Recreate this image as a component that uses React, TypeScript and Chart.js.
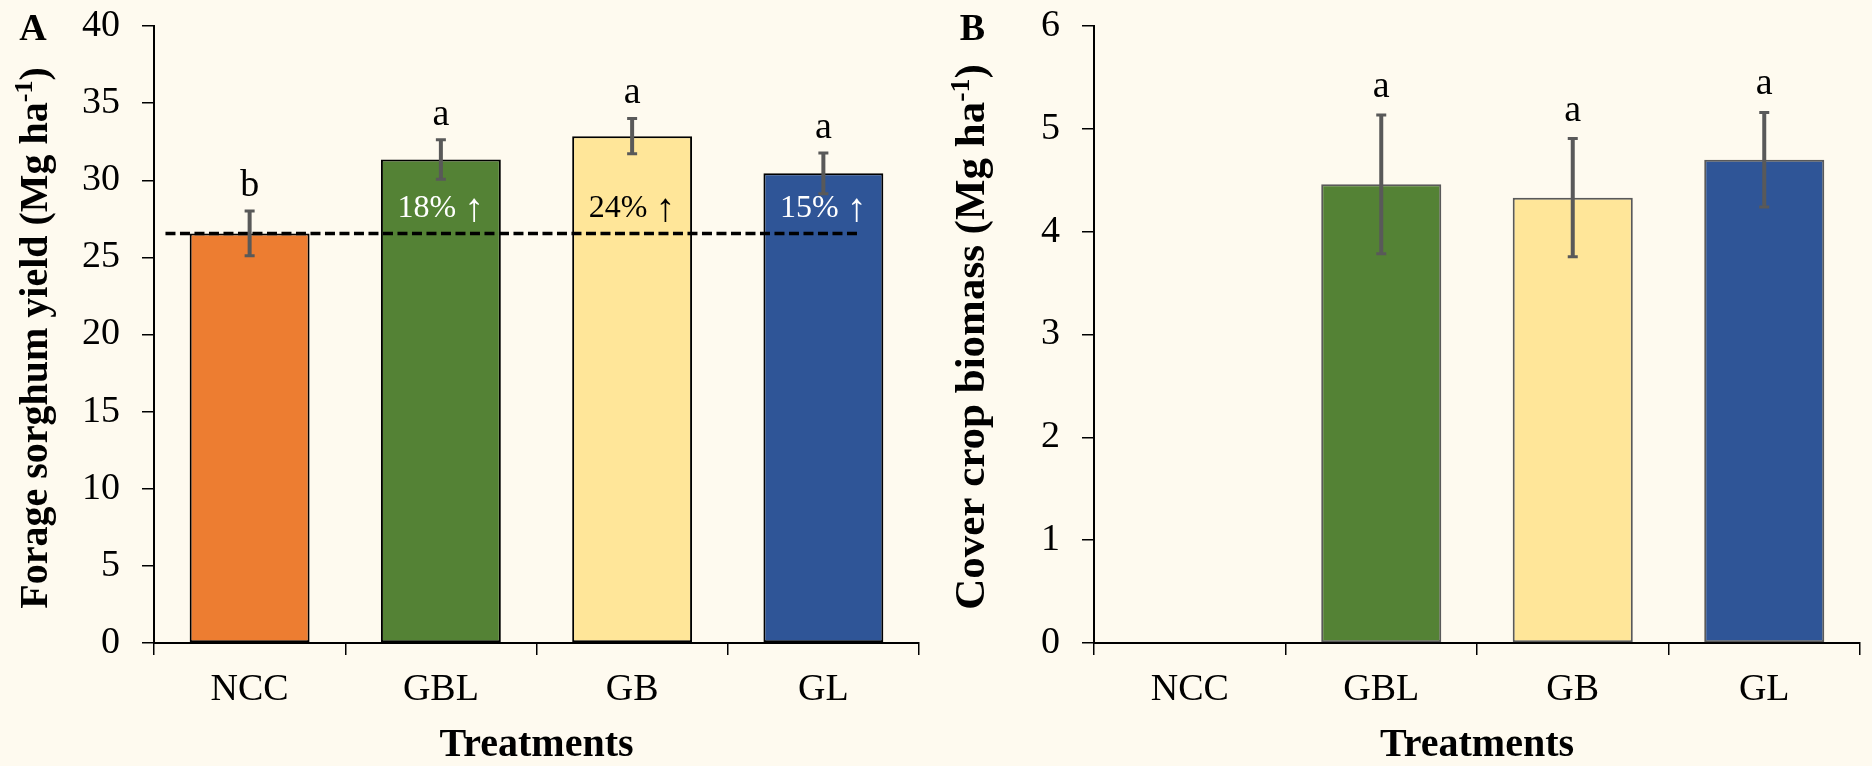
import React, { useEffect, useRef } from 'react';
import { Chart, registerables } from 'chart.js';

Chart.register(...registerables);

// ---- data ----
const treatments = ['NCC', 'GBL', 'GB', 'GL'];
const barColors = ['#ED7D31', '#548235', '#FFE699', '#2F5597'];

// Panel A: forage sorghum yield (Mg ha-1)
const sorghumYield = [26.55, 31.35, 32.86, 30.45];
const sorghumSE = [1.45, 1.28, 1.15, 1.32];
const sorghumLetters = ['b', 'a', 'a', 'a'];
const yieldGainText = ['', '18%', '24%', '15%'];
const yieldGainColors = ['', '#FFFFFF', '#000000', '#FFFFFF'];

// Panel B: cover crop biomass (Mg ha-1)
const coverBiomass = [0, 4.46, 4.33, 4.7];
const coverSE = [0, 0.675, 0.575, 0.46];
const coverLetters = ['', 'a', 'a', 'a'];

const SERIF = "'Liberation Serif', 'Times New Roman', Times, serif";
const BG = '#FEFAEF';
const UP = '\u2191';

type PanelCfg = {
  panel: string;
  panelX: number;
  titleMain: string;
  titleSize: number;
  titleX: number;
  titleY: number;
  values: number[];
  errors: number[];
  letters: string[];
  letterGap: number;
  gains?: string[];
  gainColors?: string[];
  gainAt?: number;
  baseline?: { value: number; from: number; to: number };
};

const annotate = {
  id: 'annotate',
  afterDatasetsDraw(chart: any, _args: any, opts: PanelCfg) {
    const { ctx } = chart;
    const xs = chart.scales.x;
    const ys = chart.scales.y;

    // dashed reference line at the control mean
    if (opts.baseline) {
      const y = ys.getPixelForValue(opts.baseline.value);
      ctx.save();
      ctx.strokeStyle = '#000';
      ctx.lineWidth = 3.5;
      ctx.setLineDash([10, 4.5]);
      ctx.beginPath();
      ctx.moveTo(xs.getPixelForValue(opts.baseline.from), y);
      ctx.lineTo(xs.getPixelForValue(opts.baseline.to), y);
      ctx.stroke();
      ctx.restore();
    }

    // percentage gain labels ("NN% ↑") inside bars
    if (opts.gains) {
      const numFont = `32px ${SERIF}`;
      const arrowFont = `40px ${SERIF}`;
      ctx.save();
      ctx.textAlign = 'left';
      ctx.textBaseline = 'alphabetic';
      opts.gains.forEach((t, i) => {
        if (!t) return;
        const label = t + ' ';
        ctx.font = numFont;
        const w1 = ctx.measureText(label).width;
        ctx.font = arrowFont;
        const w2 = ctx.measureText(UP).width;
        const x0 = xs.getPixelForValue(i) - (w1 + w2) / 2;
        const yb = ys.getPixelForValue(opts.gainAt!) + 11;
        ctx.fillStyle = opts.gainColors![i];
        ctx.font = numFont;
        ctx.fillText(label, x0, yb);
        ctx.font = arrowFont;
        ctx.fillText(UP, x0 + w1, yb + 4);
      });
      ctx.restore();
    }

    // error bars and significance letters
    opts.values.forEach((v, i) => {
      const e = opts.errors[i];
      if (!e) return;
      const x = xs.getPixelForValue(i);
      const yTop = ys.getPixelForValue(v + e);
      const yBot = ys.getPixelForValue(v - e);
      ctx.save();
      ctx.strokeStyle = '#595959';
      ctx.lineWidth = 4;
      ctx.beginPath();
      ctx.moveTo(x, yTop);
      ctx.lineTo(x, yBot);
      ctx.stroke();
      ctx.lineWidth = 3;
      ctx.beginPath();
      ctx.moveTo(x - 5, yTop);
      ctx.lineTo(x + 5, yTop);
      ctx.moveTo(x - 5, yBot);
      ctx.lineTo(x + 5, yBot);
      ctx.stroke();
      ctx.restore();

      if (opts.letters[i]) {
        ctx.save();
        ctx.fillStyle = '#000';
        ctx.font = `38px ${SERIF}`;
        ctx.textAlign = 'center';
        ctx.textBaseline = 'alphabetic';
        ctx.fillText(opts.letters[i], x, yTop - opts.letterGap);
        ctx.restore();
      }
    });
  },
  afterDraw(chart: any, _args: any, opts: PanelCfg) {
    const { ctx } = chart;
    // panel letter
    ctx.save();
    ctx.fillStyle = '#000';
    ctx.font = `bold 38px ${SERIF}`;
    ctx.textAlign = 'center';
    ctx.textBaseline = 'alphabetic';
    ctx.fillText(opts.panel, opts.panelX, 40);
    ctx.restore();

    // rotated y-axis title with superscript unit
    const big = `bold ${opts.titleSize}px ${SERIF}`;
    const small = `bold ${Math.round(opts.titleSize * 0.65)}px ${SERIF}`;
    const tail = ')';
    const sup = '-1';
    ctx.save();
    ctx.font = big;
    const wMain = ctx.measureText(opts.titleMain).width;
    const wTail = ctx.measureText(tail).width;
    ctx.font = small;
    const wSup = ctx.measureText(sup).width;
    const total = wMain + wSup + wTail;
    ctx.translate(opts.titleX, opts.titleY);
    ctx.rotate(-Math.PI / 2);
    ctx.fillStyle = '#000';
    ctx.textAlign = 'left';
    ctx.textBaseline = 'alphabetic';
    let cx = -total / 2;
    ctx.font = big;
    ctx.fillText(opts.titleMain, cx, 0);
    cx += wMain;
    ctx.font = small;
    ctx.fillText(sup, cx, -opts.titleSize * 0.36);
    cx += wSup;
    ctx.font = big;
    ctx.fillText(tail, cx, 0);
    ctx.restore();
  },
};

function makeConfig(
  values: number[],
  borderColor: string,
  yMax: number,
  step: number,
  yWidth: number,
  padRight: number,
  ann: PanelCfg
): any {
  const tickFont = { family: SERIF, size: 38 };
  return {
    type: 'bar',
    data: {
      labels: treatments,
      datasets: [
        {
          data: values,
          backgroundColor: barColors,
          borderColor: borderColor,
          borderWidth: values.map((v) => (v ? 2 : 0)),
          borderSkipped: false,
          categoryPercentage: 1,
          barPercentage: 0.627,
        },
      ],
    },
    options: {
      animation: false,
      responsive: false,
      events: [],
      layout: { padding: { top: 26, right: padRight, left: 0, bottom: 0 } },
      plugins: {
        legend: { display: false },
        tooltip: { enabled: false },
        annotate: ann,
      },
      scales: {
        x: {
          grid: { drawOnChartArea: false, offset: true, tickLength: 12, color: '#000', lineWidth: 1.5 },
          border: { color: '#000', width: 2 },
          ticks: { color: '#000', font: tickFont, padding: 12 },
          title: {
            display: true,
            text: 'Treatments',
            color: '#000',
            font: { family: SERIF, size: 40, weight: 'bold', lineHeight: 1 },
            padding: 0,
          },
          afterFit: (s: any) => {
            s.height = 123;
            s.paddingLeft = 0;
            s.paddingRight = 0;
          },
        },
        y: {
          min: 0,
          max: yMax,
          grid: { drawOnChartArea: false, tickLength: 12, color: '#000', lineWidth: 1.5 },
          border: { color: '#000', width: 2 },
          ticks: { stepSize: step, color: '#000', font: tickFont, padding: 22 },
          afterFit: (s: any) => {
            s.width = yWidth;
            s.paddingTop = 0;
            s.paddingBottom = 0;
          },
        },
      },
    },
    plugins: [annotate],
  };
}

function Panel({ config }: { config: any }) {
  const ref = useRef<HTMLCanvasElement | null>(null);
  useEffect(() => {
    if (!ref.current) return;
    const chart = new Chart(ref.current, config);
    return () => chart.destroy();
  }, [config]);
  return <canvas ref={ref} width={936} height={766} style={{ display: 'block', width: 936, height: 766 }} />;
}

const configA = makeConfig(sorghumYield, '#000000', 40, 5, 154, 17, {
  panel: 'A',
  panelX: 33,
  titleMain: 'Forage sorghum yield (Mg ha',
  titleSize: 40,
  titleX: 46.5,
  titleY: 338,
  values: sorghumYield,
  errors: sorghumSE,
  letters: sorghumLetters,
  letterGap: 15,
  gains: yieldGainText,
  gainColors: yieldGainColors,
  gainAt: 28.3,
  baseline: { value: sorghumYield[0], from: -0.44, to: 3.18 },
});

const configB = makeConfig(coverBiomass, '#595959', 6, 1, 158, 12, {
  panel: 'B',
  panelX: 36.5,
  titleMain: 'Cover crop biomass (Mg ha',
  titleSize: 43,
  titleX: 48,
  titleY: 337,
  values: coverBiomass,
  errors: coverSE,
  letters: coverLetters,
  letterGap: 18,
});

export default function App() {
  return (
    <div
      style={{
        position: 'absolute',
        left: 0,
        top: 0,
        width: 1872,
        height: 766,
        background: BG,
        display: 'flex',
        overflow: 'hidden',
      }}
    >
      <Panel config={configA} />
      <Panel config={configB} />
    </div>
  );
}
